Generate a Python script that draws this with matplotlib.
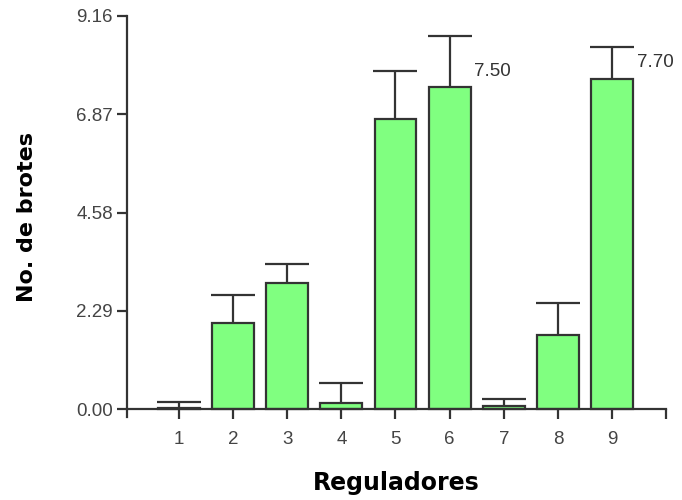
import matplotlib.pyplot as plt
import numpy as np

reguladores = [1, 2, 3, 4, 5, 6, 7, 8, 9]
brotes = [0.03, 2.01, 2.95, 0.14, 6.76, 7.50, 0.07, 1.74, 7.70]
error_sup = [0.15, 0.64, 0.43, 0.48, 1.12, 1.20, 0.16, 0.73, 0.73]
yticks = [0.00, 2.29, 4.58, 6.87, 9.16]
etiquetas = {6: '7.50', 9: '7.70'}


def main():
    fig = plt.figure(figsize=(6.82, 5.0), dpi=100)
    ax = fig.add_axes([0.186, 0.166, 0.791, 0.802])

    gris = '#333333'
    ax.bar(reguladores, brotes, width=0.77, color='#80ff80', edgecolor=gris,
           linewidth=1.6, zorder=2)
    _, caps, _ = ax.errorbar(reguladores, brotes,
                             yerr=[np.zeros(len(brotes)), error_sup],
                             fmt='none', ecolor=gris, elinewidth=1.6,
                             capsize=15.5, capthick=1.6, zorder=1)
    caps[0].set_visible(False)

    for x, txt in etiquetas.items():
        v = brotes[x - 1]
        ax.text(x + 0.45, v + 0.37, txt, ha='left', va='center',
                fontsize=13.5, color='#333333', family='Liberation Sans')

    ax.set_xlim(0.04, 10)
    ax.set_ylim(-0.18, 9.16)
    ax.spines['top'].set_visible(False)
    ax.spines['right'].set_visible(False)
    ax.spines['bottom'].set_position(('data', 0))
    ax.spines['left'].set_bounds(-0.18, 9.16)
    for s in ('left', 'bottom'):
        ax.spines[s].set_color(gris)
        ax.spines[s].set_linewidth(1.6)

    ax.set_xticks(reguladores + [10])
    ax.set_xticklabels([str(r) for r in reguladores] + [''])
    ax.set_yticks(yticks)
    ax.set_yticklabels(['%.2f' % t for t in yticks])
    ax.tick_params(axis='both', colors=gris, length=7, width=1.6,
                   labelsize=13.5, pad=3)
    ax.tick_params(axis='x', pad=9)
    for lab in ax.get_xticklabels() + ax.get_yticklabels():
        lab.set_family('Liberation Sans')
        lab.set_color('#444444')

    ax.set_xlabel('Reguladores', fontsize=17, fontweight='bold', labelpad=16)
    ax.set_ylabel('No. de brotes', fontsize=16, fontweight='bold', labelpad=28)

    plt.savefig('out.png', dpi=100)


if __name__ == "__main__":
    main()
